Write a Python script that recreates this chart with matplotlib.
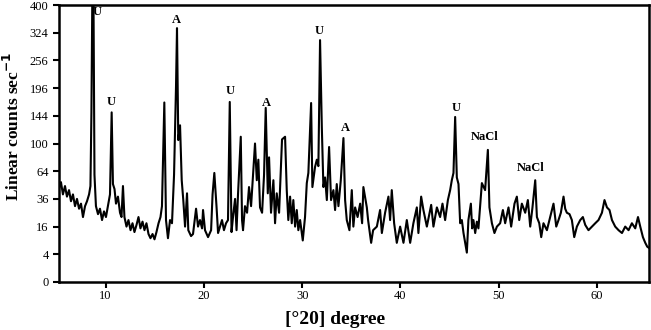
import numpy as np
import matplotlib
matplotlib.use("Agg")
import matplotlib.pyplot as plt

# XRD trace: 2-theta (deg) and linear counts/sec
two_theta = [
    5.24, 5.45, 5.65, 5.86, 6.06, 6.27, 6.47, 6.67, 6.88, 7.08, 7.29, 7.49, 7.69, 7.90,
    8.10, 8.31, 8.45, 8.55, 8.64, 8.76, 8.86, 9.01, 9.22, 9.42, 9.63, 9.83, 10.03, 10.23,
    10.44, 10.61, 10.74, 10.90, 11.05, 11.25, 11.46, 11.61, 11.76, 11.91, 12.12, 12.32,
    12.53, 12.73, 12.93, 13.14, 13.34, 13.54, 13.75, 13.95, 14.15, 14.36, 14.56, 14.77,
    14.97, 15.17, 15.38, 15.58, 15.73, 15.97, 16.14, 16.34, 16.55, 16.75, 16.96, 17.16,
    17.26, 17.39, 17.57, 17.74, 17.90, 18.08, 18.28, 18.41, 18.69, 18.89, 19.20, 19.40,
    19.60, 19.81, 19.91, 20.11, 20.42, 20.73, 20.88, 21.06, 21.28, 21.44, 21.64, 21.84,
    22.04, 22.25, 22.45, 22.63, 22.81, 22.96, 23.17, 23.32, 23.47, 23.75, 23.88, 23.98,
    24.18, 24.39, 24.59, 24.80, 25.00, 25.20, 25.38, 25.54, 25.71, 25.92, 26.12, 26.29,
    26.50, 26.63, 26.83, 27.07, 27.24, 27.41, 27.65, 27.95, 28.26, 28.43, 28.59, 28.77,
    28.94, 29.10, 29.28, 29.45, 29.61, 29.79, 30.06, 30.29, 30.47, 30.63, 30.91, 31.04,
    31.31, 31.49, 31.65, 31.82, 32.00, 32.16, 32.33, 32.51, 32.74, 32.94, 33.18, 33.35,
    33.52, 33.69, 33.93, 34.20, 34.37, 34.54, 34.81, 35.05, 35.21, 35.39, 35.64, 35.90,
    36.10, 36.23, 36.58, 36.71, 37.02, 37.22, 37.60, 37.93, 38.11, 38.44, 38.78, 38.95,
    39.12, 39.36, 39.63, 39.97, 40.31, 40.65, 40.99, 41.32, 41.67, 41.83, 42.11, 42.34,
    42.69, 43.13, 43.36, 43.71, 44.04, 44.28, 44.55, 44.83, 45.06, 45.23, 45.40, 45.57,
    45.74, 45.91, 46.08, 46.25, 46.42, 46.76, 46.92, 47.17, 47.30, 47.43, 47.61, 47.78,
    47.94, 48.29, 48.62, 48.90, 49.06, 49.31, 49.57, 49.82, 50.15, 50.43, 50.66, 51.00,
    51.27, 51.61, 51.85, 52.09, 52.36, 52.70, 52.97, 53.21, 53.44, 53.72, 53.89, 54.13,
    54.33, 54.56, 54.91, 55.24, 55.58, 55.86, 56.09, 56.33, 56.60, 56.77, 56.94, 57.21,
    57.45, 57.69, 57.96, 58.30, 58.57, 58.81, 59.14, 59.49, 59.83, 60.16, 60.51, 60.77,
    61.02, 61.28, 61.53, 61.86, 62.20, 62.55, 62.88, 63.22, 63.56, 63.90, 64.18, 64.41,
    64.68, 64.92, 65.12, 65.32,
]
counts = [
    45, 52, 40, 48, 38, 44, 34, 40, 30, 36, 28, 32, 22, 30,
    34, 40, 48, 150, 420, 420, 60, 30, 24, 28, 20, 26, 22, 30,
    40, 150, 50, 45, 32, 38, 25, 22, 48, 22, 16, 20,
    14, 18, 13, 17, 22, 15, 19, 14, 18, 12, 10, 12,
    9.5, 13, 18, 22, 30, 168, 20, 10, 20, 18, 60, 200,
    336, 105, 128, 54, 35, 16, 41, 14, 11, 12, 28, 16,
    20, 15, 27, 14, 10.5, 14, 40, 62, 30, 12.5, 16, 20,
    14, 18, 20, 169, 13, 22, 36, 14, 40, 110, 20, 14,
    30, 25, 47, 30, 60, 100, 54, 78, 29, 25, 60, 158,
    41, 81, 25, 54, 18, 41, 25, 106, 110, 44, 20, 38,
    18, 35, 16, 27, 14, 20, 9, 22, 51, 62, 167, 47,
    69, 78, 70, 305, 125, 47, 57, 35, 95, 35, 44, 27,
    50, 30, 54, 108, 35, 20, 14, 44, 16, 29, 22, 32,
    18, 47, 29, 20, 8, 14, 16, 27, 12.5, 25, 38, 20,
    44, 18, 8, 16, 8, 20, 8, 18, 29, 12.5, 38, 27,
    16, 31, 16, 29, 22, 32, 20, 35, 44, 54, 62, 142,
    57, 50, 18, 20, 12.5, 4.5, 20, 32, 15, 20, 12.5, 19,
    15, 51, 44, 91, 29, 18, 12.5, 16, 18, 27, 18, 29,
    16, 32, 38, 20, 32, 25, 35, 16, 29, 54, 22, 18,
    10.5, 18, 14, 22, 32, 16, 20, 25, 38, 28, 25, 24,
    20, 10.5, 16, 20, 22, 17, 14, 16, 18, 20, 25, 35,
    29, 27, 20, 16, 14, 12.5, 16, 14, 18, 15, 22, 16,
    10.5, 8, 6.5, 6,
]

# peak labels
peak_labels = ["U", "U", "A", "U", "A", "U", "A", "U", "NaCl", "NaCl"]
peak_x = [9.11, 10.54, 17.16, 22.66, 26.32, 31.72, 34.37, 45.67, 48.53, 53.21]
peak_y = [380, 169, 358, 190, 167, 328, 124, 158, 110, 68]

y_ticks = [0, 4, 16, 36, 64, 100, 144, 196, 256, 324, 400]
x_ticks = [10, 20, 30, 40, 50, 60]

plt.rcParams["font.family"] = ["Liberation Serif", "DejaVu Serif"]

fig = plt.figure(figsize=(6.51, 3.30), dpi=100)
ax = fig.add_axes([59 / 651, 48 / 330, 590 / 651, 277 / 330])

ax.set_yscale("function",
              functions=(lambda v: np.sqrt(np.clip(v, 0, None)),
                         lambda v: np.square(v)))
ax.plot(two_theta, counts, color="black", lw=1.5)

for lab, px, py in zip(peak_labels, peak_x, peak_y):
    ax.text(px, py, lab, ha="center", va="center",
            fontsize=9, fontweight="bold")

ax.set_xlim(5.25, 65.3)
ax.set_ylim(0, 400)
ax.set_yticks(y_ticks)
ax.set_xticks(x_ticks)
ax.tick_params(direction="out", length=4, width=1.5, labelsize=9)
ax.tick_params(axis="x", pad=2)
for sp in ax.spines.values():
    sp.set_linewidth(1.8)

ax.set_ylabel("Linear counts sec$^{\\mathbf{-1}}$", fontsize=12.5,
              fontweight="bold")
ax.yaxis.set_label_coords(-0.061, 0.56)
ax.set_xlabel("[°20] degree", fontsize=14, fontweight="bold")
ax.xaxis.set_label_coords(0.468, -0.105)

plt.savefig("out.png", dpi=100)
